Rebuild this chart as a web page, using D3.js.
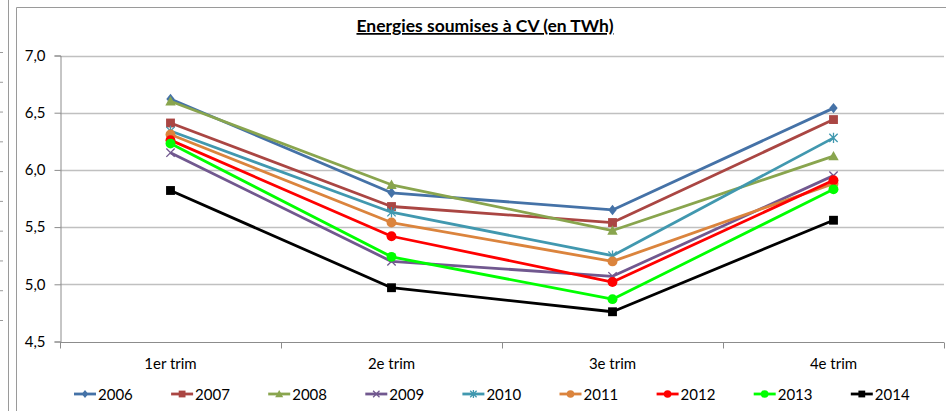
<!DOCTYPE html>
<html>
<head>
<meta charset="utf-8">
<script src="https://cdn.jsdelivr.net/npm/d3@7/dist/d3.min.js"></script>
<style>
  html, body { margin: 0; padding: 0; background: #fff; }
  svg { display: block; font-family: Lato, "Open Sans", sans-serif; }
</style>
</head>
<body>
<svg id="chart" width="946" height="411"></svg>
<script>
// Quarterly energy volumes eligible for green certificates (TWh)
const quarters = ["1er trim", "2e trim", "3e trim", "4e trim"];
const years = ["2006", "2007", "2008", "2009", "2010", "2011", "2012", "2013", "2014"];
const v2006 = [6.62, 5.80, 5.65, 6.54];
const v2007 = [6.41, 5.68, 5.54, 6.44];
const v2008 = [6.60, 5.87, 5.47, 6.12];
const v2009 = [6.15, 5.20, 5.07, 5.95];
const v2010 = [6.34, 5.63, 5.25, 6.28];
const v2011 = [6.31, 5.54, 5.20, 5.88];
const v2012 = [6.26, 5.42, 5.02, 5.91];
const v2013 = [6.23, 5.24, 4.87, 5.83];
const v2014 = [5.82, 4.97, 4.76, 5.56];
const yTicks = [4.5, 5.0, 5.5, 6.0, 6.5, 7.0];
const colors = ["#4572A7", "#AA4643", "#89A54E", "#71588F", "#4198AF", "#DB843D", "#FF0000", "#00FF00", "#000000"];
const symbols = ["diamond", "square", "triangle", "cross", "star", "circle", "circle", "circle", "square"];

const seriesValues = [v2006, v2007, v2008, v2009, v2010, v2011, v2012, v2013, v2014];
const series = years.map((y, i) => ({ name: y, values: seriesValues[i], color: colors[i], symbol: symbols[i] }));

const svg = d3.select("#chart");

// Outer frames
svg.append("line").attr("x1", 8.5).attr("x2", 8.5).attr("y1", 0).attr("y2", 411)
  .attr("stroke", "#9a9a9a").attr("stroke-width", 1);
svg.append("path").attr("d", "M16.5,411 V7.5 H946").attr("fill", "none")
  .attr("stroke", "#9a9a9a").attr("stroke-width", 1);
// Tick stubs of the neighbouring panel on the far left
const stubScale = d3.scaleLinear().domain([0, 9]).range([52.5, 320.5]);
svg.append("g").selectAll("line").data(d3.range(10)).join("line")
  .attr("x1", 0).attr("x2", 3).attr("y1", d => stubScale(d)).attr("y2", d => stubScale(d))
  .attr("stroke", "#9a9a9a");

const plot = { left: 60, right: 944, top: 55.5, bottom: 341.5 };

const x = d3.scaleBand().domain(quarters).range([plot.left, plot.right]);
const y = d3.scaleLinear().domain([4.5, 7.0]).range([plot.bottom, plot.top]);

// Gridlines
svg.append("g").selectAll("line").data(yTicks.filter(t => t > 4.5)).join("line")
  .attr("x1", plot.left).attr("x2", plot.right)
  .attr("y1", d => Math.round(y(d)) + 0.5).attr("y2", d => Math.round(y(d)) + 0.5)
  .attr("stroke", "#c0c0c0").attr("stroke-width", 1.3);

// Y axis
const yAxis = svg.append("g").attr("transform", `translate(${plot.left + 0.5},0)`)
  .call(d3.axisLeft(y).tickValues(yTicks).tickSize(6).tickPadding(9)
    .tickFormat(d => d3.format(".1f")(d).replace(".", ",")));
yAxis.select(".domain").attr("stroke", "#8c8c8c");
yAxis.selectAll(".tick line").attr("stroke", "#8c8c8c");
yAxis.selectAll("text").attr("font-size", 15).attr("fill", "#000").attr("font-family", "Lato, sans-serif");

// X axis
const xAxis = svg.append("g").attr("transform", `translate(0,${Math.round(plot.bottom) + 0.5})`)
  .call(d3.axisBottom(x).tickSize(0).tickPadding(16));
xAxis.select(".domain").attr("stroke", "#8c8c8c").attr("d", `M${plot.left},0H${plot.right}`);
xAxis.selectAll("text").attr("font-size", 15).attr("fill", "#000").attr("font-family", "Lato, sans-serif");
const bounds = quarters.map(q => x(q)).concat([plot.right]);
xAxis.append("g").selectAll("line").data(bounds).join("line")
  .attr("x1", d => Math.round(d) + 0.5).attr("x2", d => Math.round(d) + 0.5)
  .attr("y1", 0).attr("y2", 6).attr("stroke", "#8c8c8c");

// Title
svg.append("text").attr("x", 485).attr("y", 32).attr("text-anchor", "middle")
  .attr("font-size", 17.5).attr("font-weight", "bold").attr("text-decoration", "underline")
  .attr("fill", "#000").text("Energies soumises à CV (en TWh)");

// Marker drawing
function drawMarker(g, sym, color, size) {
  const s = size;
  if (sym === "diamond") {
    g.append("path").attr("d", `M0,${-s}L${s * 0.8},0L0,${s}L${-s * 0.8},0Z`).attr("fill", color);
  } else if (sym === "square") {
    g.append("rect").attr("x", -s * 0.85).attr("y", -s * 0.85).attr("width", s * 1.7).attr("height", s * 1.7).attr("fill", color);
  } else if (sym === "triangle") {
    g.append("path").attr("d", `M0,${-s}L${s},${s * 0.8}L${-s},${s * 0.8}Z`).attr("fill", color);
  } else if (sym === "circle") {
    g.append("circle").attr("r", s * 0.95).attr("fill", color);
  } else if (sym === "cross") {
    g.append("path").attr("d", `M${-s * 0.8},${-s * 0.8}L${s * 0.8},${s * 0.8}M${s * 0.8},${-s * 0.8}L${-s * 0.8},${s * 0.8}`)
      .attr("stroke", color).attr("stroke-width", 1.3);
  } else if (sym === "star") {
    g.append("path").attr("d", `M${-s * 0.8},${-s * 0.8}L${s * 0.8},${s * 0.8}M${s * 0.8},${-s * 0.8}L${-s * 0.8},${s * 0.8}M0,${-s}V${s}`)
      .attr("stroke", color).attr("stroke-width", 1.3);
  }
}

const line = d3.line().x((d, i) => x(quarters[i]) + x.bandwidth() / 2).y(d => y(d));

const seriesG = svg.append("g").selectAll("g").data(series).join("g");
seriesG.append("path").attr("d", d => line(d.values)).attr("fill", "none")
  .attr("stroke", d => d.color).attr("stroke-width", 2.8).attr("stroke-linejoin", "round");
seriesG.each(function (d) {
  const g = d3.select(this);
  d.values.forEach((v, i) => {
    const m = g.append("g").attr("transform", `translate(${x(quarters[i]) + x.bandwidth() / 2},${y(v)})`);
    drawMarker(m, d.symbol, d.color, 5.2);
  });
});

// Legend
const legend = svg.append("g").attr("transform", "translate(74,394)");
const item = legend.selectAll("g").data(series).join("g")
  .attr("transform", (d, i) => `translate(${i * 97.1},0)`);
item.append("line").attr("x1", 0).attr("x2", 22).attr("stroke", d => d.color).attr("stroke-width", 2.8);
item.each(function (d) {
  const m = d3.select(this).append("g").attr("transform", "translate(11,0)");
  drawMarker(m, d.symbol, d.color, 4);
});
item.append("text").attr("x", 24).attr("y", 5.5).attr("font-size", 15).attr("fill", "#000").text(d => d.name);
</script>
</body>
</html>
